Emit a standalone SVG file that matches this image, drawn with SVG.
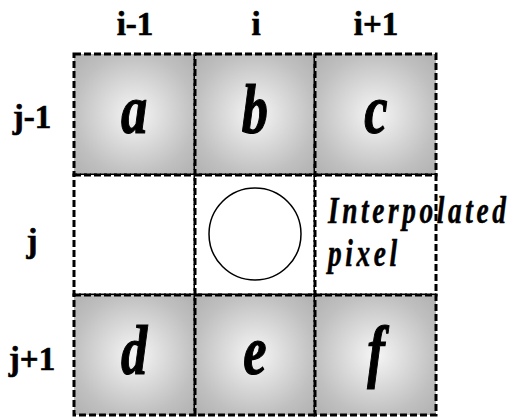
<svg xmlns="http://www.w3.org/2000/svg" width="513" height="417" viewBox="0 0 513 417">
<style>
.cell{stroke:#000;stroke-width:3;stroke-dasharray:7 3}
.g{fill:url(#rg)}
.w{fill:#fff}
.lab{font-family:"Liberation Serif","Times New Roman",serif;font-weight:bold;font-size:33px;fill:#000;stroke:#000;stroke-width:0.6;text-anchor:middle}
.let{font-family:"Liberation Serif","Times New Roman",serif;font-weight:bold;font-style:italic;font-size:70px;fill:#000;stroke:#000;stroke-width:1.2;text-anchor:middle}
.ip{font-family:"Liberation Serif","Times New Roman",serif;font-weight:bold;font-style:italic;font-size:38px;fill:#000;stroke:#000;stroke-width:0.5;letter-spacing:5px}
</style>
<defs>
<radialGradient id="rg" cx="0.5" cy="0.5" r="0.71">
<stop offset="0" stop-color="#f6f6f6"/>
<stop offset="0.7" stop-color="#c0c0c0"/>
<stop offset="1" stop-color="#b0b0b0"/>
</radialGradient>
</defs>
<rect width="513" height="417" fill="#fff"/>
<g id="labels">
<text class="lab" x="135" y="35">i-1</text>
<text class="lab" x="256" y="35">i</text>
<text class="lab" x="376" y="35">i+1</text>
<text class="lab" x="32" y="128">j-1</text>
<text class="lab" x="32" y="252">j</text>
<text class="lab" x="32" y="370">j+1</text>
</g>
<g id="cell-a"><rect class="cell g" x="74" y="54" width="121" height="121"/><text class="let" transform="scale(0.75,1)" x="178.7" y="133">a</text></g>
<g id="cell-b"><rect class="cell g" x="195" y="54" width="120" height="121"/><text class="let" transform="scale(0.75,1)" x="340" y="133">b</text></g>
<g id="cell-c"><rect class="cell g" x="315" y="54" width="121" height="121"/><text class="let" transform="scale(0.75,1)" x="501.3" y="133">c</text></g>
<g id="cell-l"><rect class="cell w" x="74" y="175" width="121" height="120"/></g>
<g id="cell-m"><rect class="cell w" x="195" y="175" width="120" height="120"/><circle cx="255" cy="234" r="46" fill="#fff" stroke="#000" stroke-width="1.5"/></g>
<g id="cell-r"><rect class="cell w" x="315" y="175" width="121" height="120"/></g>
<g id="cell-d"><rect class="cell g" x="74" y="295" width="121" height="120"/><text class="let" transform="scale(0.75,1)" x="178.7" y="374">d</text></g>
<g id="cell-e"><rect class="cell g" x="195" y="295" width="120" height="120"/><text class="let" transform="scale(0.75,1)" x="340" y="374">e</text></g>
<g id="cell-f"><rect class="cell g" x="315" y="295" width="121" height="120"/><text class="let" transform="scale(0.75,1)" x="501.3" y="374">f</text></g>
<g id="note">
<text class="ip" transform="scale(0.72,1)" x="455.6" y="223">Interpolated</text>
<text class="ip" transform="scale(0.72,1)" x="455.6" y="266">pixel</text>
</g>
</svg>
